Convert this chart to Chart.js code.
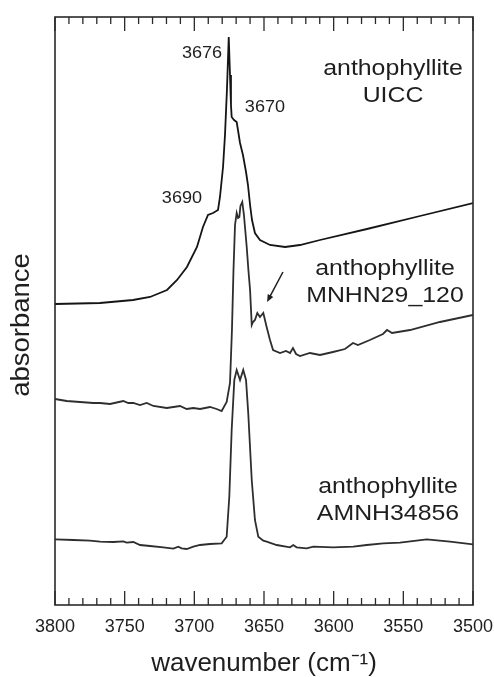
<!DOCTYPE html>
<html lang="en">
<head>
    <meta charset="UTF-8">
    <title>Anthophyllite OH stretching spectra</title>
    <script src="https://cdn.jsdelivr.net/npm/chart.js"></script>
</head>
<body style="margin: 0; background-color: white;">
    <div style="width: 494px; height: 677px;">
        <canvas id="chart" width="494" height="677"></canvas>
    </div>

    <script>
        // wavenumbers (cm-1) and offset absorbance (arbitrary units)
        const uiccWn = [3800, 3767.7, 3744, 3731.8, 3719.6, 3712.4, 3705.3, 3698.1, 3693.8, 3690.2, 3686.6, 3683, 3681.6, 3679.4, 3678, 3676.6, 3675.3, 3674.4, 3673.7, 3673.2, 3671.5, 3669.6, 3667.2, 3665.1, 3662.9, 3661.5, 3660, 3658.6, 3656.5, 3652.9, 3645.7, 3634.9, 3624.2, 3609.8, 3576.1, 3538, 3500];
        const uiccAbs = [301, 302, 305, 308, 315, 325, 338, 358, 378, 390, 392, 395, 408, 438, 470, 515, 568, 530, 500, 488, 485, 483, 462, 450, 433, 420, 400, 385, 372, 365, 360, 358, 360, 365, 376, 389, 402];

        const mnhnWn = [3800, 3791.6, 3782.1, 3772.5, 3767.7, 3760.5, 3751, 3747.4, 3743.8, 3739, 3734.2, 3729.4, 3719.8, 3710.3, 3705.5, 3700.7, 3695.9, 3688.8, 3684, 3680.4, 3676.8, 3674.4, 3673, 3671.9, 3670.8, 3669.6, 3668.6, 3667.7, 3666.9, 3665.6, 3664.4, 3662.4, 3661.2, 3660, 3658.8, 3657.9, 3656.5, 3654.8, 3652.9, 3650.5, 3648.1, 3645.7, 3643.5, 3638.5, 3634.2, 3631.3, 3629.2, 3627, 3624.2, 3617, 3609.8, 3600.5, 3591.9, 3586.1, 3582.6, 3574, 3564.6, 3561.7, 3558.1, 3545.2, 3523.7, 3500];
        const mnhnAbs = [206, 204, 203, 202, 202, 201, 204, 202, 202, 200, 202, 199, 197, 199, 196, 197, 196, 198, 196, 194, 203, 222, 275, 335, 380, 392, 387, 388, 399, 403, 390, 358, 335, 315, 280, 283, 285, 292, 288, 292, 278, 265, 255, 252, 254, 252, 257, 251, 249, 252, 250, 253, 256, 262, 260, 265, 271, 275, 272, 275, 283, 290];

        const amnhWn = [3800, 3786.8, 3774.9, 3767.7, 3758.2, 3751, 3748.6, 3743.8, 3739, 3731.8, 3722.3, 3715.1, 3711.5, 3709.1, 3705.5, 3700.7, 3695.9, 3688.8, 3680.4, 3676.8, 3674.9, 3673.2, 3671.3, 3669.6, 3667.2, 3664.9, 3662.9, 3661.3, 3658.8, 3656.5, 3654.1, 3650.5, 3648.1, 3640.9, 3631.3, 3629, 3626.6, 3619.4, 3614.6, 3600.3, 3585.9, 3576.3, 3564.4, 3552.4, 3533.2, 3516.5, 3500];
        const amnhAbs = [65.7, 65, 64.3, 63.3, 63, 63.7, 62.3, 63, 60, 59, 57.7, 56.3, 58.3, 56.7, 56, 58.3, 60, 61, 61.7, 68.3, 108.3, 175, 225, 235, 225, 235, 225, 191.7, 125, 85, 68.3, 64.3, 63.3, 60, 57.7, 60, 57.7, 56.7, 58.3, 57.7, 58.3, 60, 61.7, 62.3, 65.7, 63.3, 60.7];

        const xTickValues = [3800, 3750, 3700, 3650, 3600, 3550, 3500];

        // text annotations, placed in data coordinates
        const sampleLabels = [
            { lines: ['anthophyllite', 'UICC'], x: 3557.4, y: 530 },
            { lines: ['anthophyllite', 'MNHN29_120'], x: 3563.2, y: 330 },
            { lines: ['anthophyllite', 'AMNH34856'], x: 3561, y: 112 }
        ];
        const peakLabels = [
            { text: '3676', x: 3694.5, y: 551 },
            { text: '3670', x: 3649.3, y: 497 },
            { text: '3690', x: 3708.9, y: 406 }
        ];
        const arrowFrom = { x: 3636.4, y: 333 };
        const arrowTo = { x: 3647.8, y: 303 };

        const FONT = '"Liberation Sans", Arial, sans-serif';
        const INK = '#1e1e1e';

        function toPoints(wn, ab) {
            return wn.map((w, i) => ({ x: w, y: ab[i] }));
        }

        function stretchedText(ctx, text, x, y, sx) {
            ctx.save();
            ctx.translate(x, y);
            ctx.scale(sx, 1);
            ctx.fillText(text, 0, 0);
            ctx.restore();
        }

        const decorations = {
            id: 'decorations',
            afterDatasetsDraw(chart) {
                const ctx = chart.ctx;
                const xs = chart.scales.x, ys = chart.scales.y;
                const a = chart.chartArea;

                // frame
                ctx.save();
                ctx.strokeStyle = '#2a2a2a';
                ctx.lineWidth = 1.6;
                ctx.strokeRect(a.left, a.top, a.right - a.left, a.bottom - a.top);

                // inward ticks top and bottom, every 10 cm-1
                ctx.lineWidth = 1.3;
                for (let v = 3500; v <= 3800; v += 10) {
                    const px = xs.getPixelForValue(v);
                    const len = v % 50 === 0 ? 14 : 7;
                    ctx.beginPath();
                    ctx.moveTo(px, a.bottom);
                    ctx.lineTo(px, a.bottom - len);
                    ctx.moveTo(px, a.top);
                    ctx.lineTo(px, a.top + len);
                    ctx.stroke();
                }

                ctx.fillStyle = INK;
                ctx.textAlign = 'center';
                ctx.textBaseline = 'alphabetic';

                // sample names
                ctx.font = '22px ' + FONT;
                sampleLabels.forEach(l => {
                    const px = xs.getPixelForValue(l.x);
                    const py = ys.getPixelForValue(l.y);
                    l.lines.forEach((t, i) => stretchedText(ctx, t, px, py + i * 27, 1.13));
                });

                // peak positions
                ctx.font = '16px ' + FONT;
                ctx.textBaseline = 'middle';
                peakLabels.forEach(l => {
                    stretchedText(ctx, l.text, xs.getPixelForValue(l.x), ys.getPixelForValue(l.y), 1.13);
                });

                // y title
                ctx.font = '25px ' + FONT;
                ctx.save();
                ctx.translate(22, 325);
                ctx.rotate(-Math.PI / 2);
                ctx.scale(1.1, 1);
                ctx.fillText('absorbance', 0, 0);
                ctx.restore();

                // arrow
                const x1 = xs.getPixelForValue(arrowFrom.x), y1 = ys.getPixelForValue(arrowFrom.y);
                const x2 = xs.getPixelForValue(arrowTo.x), y2 = ys.getPixelForValue(arrowTo.y);
                const ang = Math.atan2(y2 - y1, x2 - x1);
                ctx.strokeStyle = INK;
                ctx.lineWidth = 1.5;
                ctx.beginPath();
                ctx.moveTo(x1, y1);
                ctx.lineTo(x2 - 4 * Math.cos(ang), y2 - 4 * Math.sin(ang));
                ctx.stroke();
                ctx.beginPath();
                ctx.moveTo(x2, y2);
                ctx.lineTo(x2 - 8 * Math.cos(ang - 0.4), y2 - 8 * Math.sin(ang - 0.4));
                ctx.lineTo(x2 - 8 * Math.cos(ang + 0.4), y2 - 8 * Math.sin(ang + 0.4));
                ctx.closePath();
                ctx.fill();
                ctx.restore();
            }
        };

        const lineStyle = { borderWidth: 1.8, pointRadius: 0, tension: 0, fill: false };

        new Chart(document.getElementById('chart'), {
            type: 'line',
            data: {
                datasets: [
                    Object.assign({ label: 'UICC', data: toPoints(uiccWn, uiccAbs), borderColor: '#151515' }, lineStyle),
                    Object.assign({ label: 'MNHN29_120', data: toPoints(mnhnWn, mnhnAbs), borderColor: '#2e2e2e' }, lineStyle),
                    Object.assign({ label: 'AMNH34856', data: toPoints(amnhWn, amnhAbs), borderColor: '#2e2e2e' }, lineStyle)
                ]
            },
            options: {
                responsive: false,
                animation: false,
                layout: { padding: { left: 55, right: 21, top: 17, bottom: 0 } },
                plugins: { legend: { display: false }, tooltip: { enabled: false } },
                scales: {
                    x: {
                        type: 'linear',
                        reverse: true,
                        min: 3500,
                        max: 3800,
                        afterBuildTicks: s => { s.ticks = xTickValues.map(v => ({ value: v })); },
                        afterFit: s => { s.height = 72; s.paddingLeft = 0; s.paddingRight = 0; },
                        grid: { display: false, drawTicks: false },
                        border: { display: false },
                        ticks: {
                            padding: 11,
                            color: INK,
                            font: { family: FONT, size: 18 },
                            maxRotation: 0,
                            callback: v => String(v)
                        },
                        title: {
                            display: true,
                            text: 'wavenumber (cm\u207B\u00B9)',
                            color: INK,
                            font: { family: FONT, size: 26, lineHeight: 1 },
                            padding: { top: 0, bottom: 0 }
                        }
                    },
                    y: {
                        display: false,
                        min: 0,
                        max: 588
                    }
                }
            },
            plugins: [decorations]
        });
    </script>
</body>
</html>
